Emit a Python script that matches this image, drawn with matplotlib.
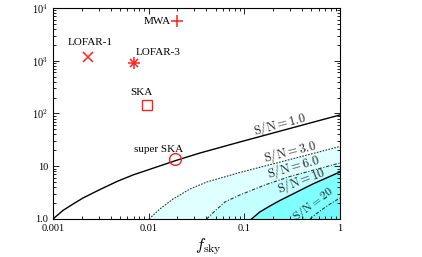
import matplotlib
matplotlib.use('Agg')
import matplotlib.pyplot as plt
import matplotlib.ticker as mticker

plt.rcParams['font.family'] = ['Liberation Serif', 'DejaVu Serif']
plt.rcParams['mathtext.fontset'] = 'cm'

# experiments (f_sky, y value)
exp_names = ['LOFAR-1', 'LOFAR-3', 'MWA', 'SKA', 'super SKA']
exp_fsky = [0.0023, 0.0071, 0.020, 0.0095, 0.019]
exp_val = [1180, 900, 5600, 145, 13.7]

# where the experiment names sit
name_fsky = [0.00247, 0.0125, 0.0171, 0.0083, 0.0128]
name_val = [2170, 1450, 5430, 250, 21.2]

# S/N contours
fsky_sn1 = [0.001, 0.00127, 0.00162, 0.00206, 0.0031, 0.00467, 0.00686, 0.0103,
            0.0193, 0.0344, 0.0899, 0.30, 1.0]
val_sn1 = [1.0, 1.45, 1.92, 2.50, 3.62, 5.14, 6.83, 8.75, 12.85, 17.8, 28.8, 52, 93.7]

fsky_sn3 = [0.0101, 0.0131, 0.0180, 0.0270, 0.0406, 0.0899, 0.30, 1.0]
val_sn3 = [1.0, 1.55, 2.39, 3.70, 5.03, 7.61, 13.4, 23.7]

fsky_sn6 = [0.0404, 0.0493, 0.0627, 0.0899, 0.164, 0.30, 1.0]
val_sn6 = [1.0, 1.42, 2.10, 2.85, 4.41, 6.39, 11.5]

fsky_sn10 = [0.119, 0.1455, 0.185, 0.2355, 0.338, 0.521, 1.0]
val_sn10 = [1.0, 1.36, 1.76, 2.24, 3.11, 4.61, 7.78]

fsky_sn20 = [0.485, 0.560, 0.663, 0.804, 1.0]
val_sn20 = [1.0, 1.24, 1.55, 1.97, 2.50]

# contour labels: text, f_sky, value, angle
sn_text = ['1.0', '3.0', '6.0', '10', '20']
sn_fsky = [0.235, 0.30, 0.33, 0.40, 0.53]
sn_val = [62, 18.5, 9.6, 5.3, 1.95]
sn_rot = [15, 14, 16, 21, 37]

xlim = (0.001, 1.0)
ylim = (1.0, 1e4)

fig = plt.figure(figsize=(4.22, 2.57), dpi=100)
ax = fig.add_axes([0.1256, 0.148, 0.68, 0.821])
ax.set_xscale('log')
ax.set_yscale('log')
ax.set_xlim(*xlim)
ax.set_ylim(*ylim)

# shaded regions, lighter to darker
fills = [(fsky_sn3, val_sn3, '#E0FFFF'),
         (fsky_sn6, val_sn6, '#C4FFFF'),
         (fsky_sn10, val_sn10, '#80FFFF'),
         (fsky_sn20, val_sn20, '#70F8FC')]
for fx, fy, col in fills:
    ax.fill(list(fx) + [xlim[1]], list(fy) + [ylim[0]], color=col, lw=0, zorder=1)

ax.plot(fsky_sn1, val_sn1, color='black', lw=1.0, zorder=3)
ax.plot(fsky_sn3, val_sn3, color='#333333', lw=0.8, ls=(0, (1.5, 1.2)), zorder=3)
ax.plot(fsky_sn6, val_sn6, color='#333333', lw=0.8, ls=(0, (3, 1.5, 1, 1.5)), zorder=3)
ax.plot(fsky_sn10, val_sn10, color='black', lw=1.0, zorder=3)
ax.plot(fsky_sn20, val_sn20, color='#333333', lw=0.8, ls=(0, (3, 1.5, 1, 1.5)), zorder=3)

for txt, lx, ly, rot in zip(sn_text, sn_fsky, sn_val, sn_rot):
    fs = 8.5 if txt == '20' else 9
    ax.text(lx, ly, r'$\mathrm{S/N} = ' + txt + '$', fontsize=fs, rotation=rot,
            ha='center', va='center', rotation_mode='anchor', color='#222222', zorder=4)

red = '#FF2020'
ax.plot(exp_fsky[0], exp_val[0], marker='x', ms=7, mew=1.1, color=red, ls='none', zorder=5)
ax.plot(exp_fsky[1], exp_val[1], marker='x', ms=6, mew=1.1, color=red, ls='none', zorder=5)
ax.plot(exp_fsky[1], exp_val[1], marker='+', ms=8, mew=1.1, color=red, ls='none', zorder=5)
ax.plot(exp_fsky[2], exp_val[2], marker='+', ms=8, mew=1.1, color=red, ls='none', zorder=5)
ax.plot(exp_fsky[3], exp_val[3], marker='s', ms=7, mew=1.0, mfc='none', color=red, ls='none', zorder=5)
ax.plot(exp_fsky[4], exp_val[4], marker='o', ms=8.5, mew=1.0, mfc='none', color=red, ls='none', zorder=5)

aligns = ['center', 'center', 'right', 'center', 'center']
for name, nx, ny, ha in zip(exp_names, name_fsky, name_val, aligns):
    ax.text(nx, ny, name, fontsize=8, ha=ha, va='center', zorder=6)

ax.xaxis.set_major_locator(mticker.FixedLocator([0.001, 0.01, 0.1, 1]))
ax.xaxis.set_major_formatter(mticker.FixedFormatter(['0.001', '0.01', '0.1', '1']))
ax.yaxis.set_major_locator(mticker.FixedLocator([1, 10, 100, 1000, 10000]))
ax.yaxis.set_major_formatter(mticker.FixedFormatter(['1.0', '10', r'$10^2$', r'$10^3$', r'$10^4$']))
ax.xaxis.set_minor_locator(mticker.LogLocator(base=10, subs=range(2, 10)))
ax.yaxis.set_minor_locator(mticker.LogLocator(base=10, subs=range(2, 10)))
ax.xaxis.set_minor_formatter(mticker.NullFormatter())
ax.yaxis.set_minor_formatter(mticker.NullFormatter())
ax.tick_params(which='both', direction='in', top=True, right=True, labelsize=7.5, width=0.6)
ax.tick_params(which='major', length=4)
ax.tick_params(which='minor', length=2)
for s in ax.spines.values():
    s.set_linewidth(0.8)

fig.text(208 / 422, 1 - 247 / 257, r'$f_{\mathrm{sky}}$', fontsize=12, ha='center', va='center')

fig.savefig('out.png', dpi=100)
